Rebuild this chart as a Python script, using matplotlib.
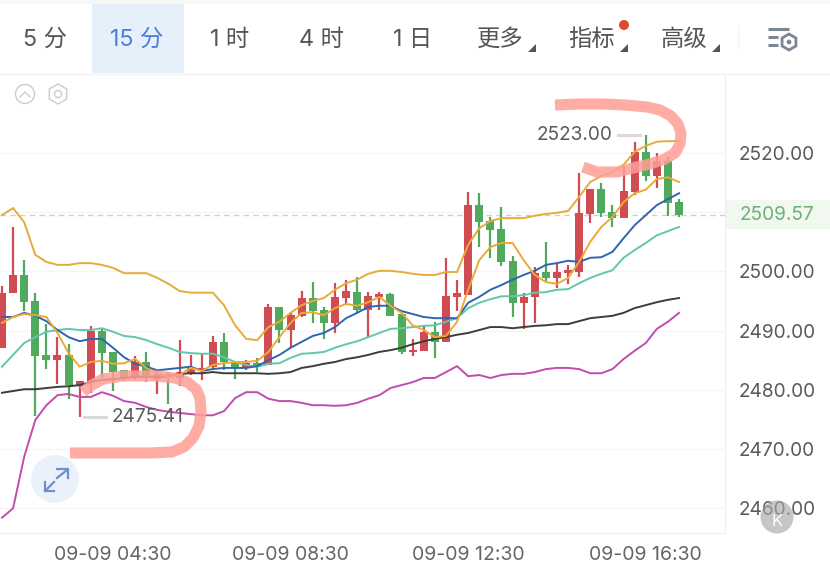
import numpy as np
import matplotlib
matplotlib.use("Agg")
import matplotlib.pyplot as plt
from matplotlib.patches import Circle, Polygon, Rectangle

plt.rcParams["font.family"] = ["Inter", "Noto Sans CJK SC", "DejaVu Sans"]

# 15 min candles, 09-09 02:00 onward
opens = [2487.1, 2496.4, 2499.4, 2495.0, 2485.9, 2485.0, 2485.9, 2480.6, 2481.2, 2489.9, 2486.4,
         2483.3, 2482.2, 2484.7, 2481.8, 2482.7, 2482.0, 2482.8, 2483.2, 2483.9, 2488.1, 2484.5,
         2483.7, 2484.5, 2484.2, 2494.0, 2490.1, 2492.5, 2495.5, 2493.5, 2491.3, 2495.5, 2496.5,
         2493.5, 2495.7, 2496.2, 2492.8, 2486.4, 2486.6, 2489.8, 2488.1, 2495.7, 2496.0, 2511.2,
         2508.5, 2507.2, 2501.8, 2494.7, 2495.7, 2499.9, 2498.9, 2499.7, 2499.9, 2509.7, 2513.9,
         2510.0, 2509.0, 2513.4, 2520.2, 2516.1, 2518.6, 2511.7]
highs = [2497.5, 2507.5, 2501.9, 2496.4, 2491.1, 2488.9, 2487.7, 2481.5, 2490.8, 2490.4, 2486.4,
         2483.3, 2485.7, 2486.4, 2483.3, 2483.0, 2488.4, 2485.9, 2486.2, 2489.1, 2489.6, 2484.7,
         2485.0, 2485.4, 2494.5, 2494.0, 2493.0, 2496.7, 2498.2, 2494.0, 2498.0, 2498.6, 2499.1,
         2496.5, 2496.5, 2496.4, 2492.8, 2488.6, 2490.9, 2491.5, 2502.3, 2498.6, 2513.4, 2513.2,
         2509.2, 2510.9, 2502.6, 2496.4, 2500.7, 2505.0, 2501.3, 2501.1, 2516.6, 2513.9, 2514.9,
         2511.2, 2517.8, 2521.9, 2523.0, 2520.0, 2519.3, 2512.2]
lows = [2487.1, 2496.4, 2493.3, 2475.6, 2483.5, 2481.0, 2478.5, 2475.41, 2479.5, 2482.0, 2479.8,
        2481.5, 2481.7, 2481.3, 2479.3, 2477.6, 2480.6, 2482.5, 2481.7, 2483.3, 2483.3, 2481.8,
        2483.3, 2483.0, 2484.2, 2487.9, 2487.1, 2492.3, 2491.3, 2488.6, 2489.6, 2494.5, 2493.0,
        2488.9, 2493.5, 2492.5, 2486.1, 2485.7, 2486.6, 2485.4, 2488.1, 2493.3, 2496.0, 2504.1,
        2502.3, 2500.9, 2492.3, 2490.3, 2491.3, 2498.4, 2497.2, 2497.9, 2499.1, 2508.2, 2509.2,
        2507.5, 2509.0, 2512.9, 2515.3, 2514.1, 2509.4, 2509.2]
closes = [2496.4, 2499.4, 2494.8, 2485.7, 2485.0, 2485.9, 2480.8, 2481.5, 2489.9, 2486.2, 2483.0,
          2482.0, 2484.7, 2482.2, 2482.7, 2482.0, 2483.0, 2483.7, 2483.7, 2488.1, 2484.7, 2483.7,
          2484.5, 2483.9, 2494.0, 2490.1, 2492.6, 2495.5, 2493.3, 2491.3, 2495.7, 2496.7, 2493.5,
          2495.8, 2496.2, 2492.5, 2486.4, 2486.7, 2489.8, 2488.1, 2495.8, 2496.4, 2511.2, 2508.3,
          2507.0, 2501.6, 2494.7, 2495.7, 2499.7, 2498.9, 2499.9, 2500.2, 2509.9, 2513.9, 2509.9,
          2509.0, 2513.6, 2520.2, 2516.1, 2518.6, 2511.6, 2509.57]

boll_upper = [2509.5, 2510.7, 2508.3, 2502.8, 2501.6, 2501.1, 2501.1, 2501.4, 2501.4, 2501.1, 2500.6,
              2499.7, 2499.7, 2499.7, 2498.9, 2497.9, 2496.7, 2496.4, 2496.4, 2496.4, 2494.3, 2490.9,
              2488.6, 2488.4, 2490.6, 2491.5, 2493.0, 2494.3, 2495.0, 2495.5, 2496.9, 2498.0, 2498.6,
              2499.6, 2500.1, 2500.1, 2499.9, 2499.6, 2499.4, 2499.4, 2499.9, 2499.9, 2504.5, 2507.3,
              2508.5, 2509.0, 2509.0, 2509.0, 2509.4, 2509.7, 2509.9, 2510.2, 2512.6, 2515.1, 2516.1,
              2516.8, 2518.0, 2520.2, 2521.2, 2521.9, 2522.0, 2522.0]
ma_fast = [2491.3, 2492.3, 2492.8, 2492.6, 2492.3, 2489.6, 2486.2, 2483.9, 2484.7, 2484.9, 2484.4,
           2484.5, 2485.2, 2483.7, 2482.8, 2482.2, 2482.5, 2483.7, 2483.2, 2484.2, 2484.5, 2484.7,
           2484.7, 2484.9, 2486.4, 2488.9, 2491.3, 2493.0, 2493.1, 2492.6, 2493.8, 2494.5, 2494.2,
           2494.8, 2495.7, 2494.2, 2493.0, 2490.9, 2490.1, 2488.9, 2489.1, 2491.5, 2496.9, 2501.9,
           2504.1, 2504.8, 2504.8, 2501.9, 2499.4, 2498.2, 2497.9, 2498.9, 2501.6, 2505.0, 2507.5,
           2509.2, 2511.7, 2513.2, 2513.8, 2515.6, 2515.9, 2515.1]
ma_blue = [2492.3, 2492.3, 2493.0, 2492.5, 2491.6, 2490.1, 2488.9, 2488.2, 2488.6, 2488.6, 2487.1,
           2485.5, 2484.4, 2483.9, 2483.3, 2483.5, 2483.7, 2483.9, 2483.2, 2483.5, 2483.7, 2483.7,
           2483.7, 2484.0, 2485.0, 2485.9, 2487.1, 2488.1, 2489.1, 2489.6, 2490.6, 2492.1, 2493.0,
           2494.0, 2494.2, 2494.2, 2493.3, 2492.8, 2492.3, 2492.1, 2492.1, 2492.1, 2494.7, 2495.7,
           2496.9, 2497.7, 2498.6, 2499.4, 2500.1, 2501.1, 2501.4, 2501.8, 2501.6, 2502.3, 2502.4,
           2503.3, 2505.6, 2507.8, 2509.5, 2511.2, 2512.2, 2513.2]
ma_teal = [2483.9, 2485.9, 2487.9, 2488.9, 2489.8, 2490.1, 2490.3, 2490.1, 2490.1, 2490.4, 2489.8,
           2489.1, 2488.9, 2488.4, 2487.7, 2487.1, 2486.4, 2486.2, 2486.1, 2486.1, 2485.5, 2484.7,
           2484.2, 2483.9, 2484.4, 2484.5, 2485.4, 2486.1, 2486.2, 2486.4, 2487.1, 2487.7, 2488.2,
           2488.9, 2489.6, 2490.3, 2490.4, 2490.6, 2490.8, 2490.9, 2491.5, 2492.1, 2493.8, 2494.7,
           2495.3, 2495.8, 2495.8, 2496.0, 2496.4, 2496.5, 2496.9, 2497.0, 2498.0, 2498.9, 2499.6,
           2500.2, 2502.3, 2503.6, 2504.8, 2506.1, 2506.8, 2507.5]
ma_black = [2479.5, 2479.8, 2480.1, 2480.1, 2480.3, 2480.5, 2480.6, 2480.8, 2481.3, 2481.7, 2481.8,
            2482.0, 2482.2, 2482.2, 2482.2, 2482.3, 2482.7, 2482.8, 2482.8, 2483.0, 2482.8, 2482.8,
            2482.8, 2482.8, 2482.7, 2482.8, 2483.0, 2483.7, 2484.0, 2484.4, 2484.7, 2485.2, 2485.5,
            2485.9, 2486.4, 2486.7, 2487.1, 2487.7, 2488.2, 2488.6, 2488.9, 2489.3, 2489.6, 2490.1,
            2490.6, 2490.6, 2490.4, 2490.6, 2490.8, 2490.9, 2491.1, 2491.1, 2491.6, 2492.1, 2492.3,
            2492.5, 2493.0, 2493.8, 2494.3, 2494.8, 2495.2, 2495.5]
boll_lower = [2458.4, 2460.0, 2468.7, 2474.9, 2477.4, 2479.1, 2479.3, 2478.8, 2478.8, 2479.6, 2479.0,
              2478.1, 2477.8, 2477.1, 2476.6, 2476.3, 2476.1, 2475.9, 2475.7, 2475.7, 2476.4, 2478.6,
              2479.6, 2479.6, 2478.5, 2478.1, 2478.1, 2477.8, 2477.4, 2477.4, 2477.3, 2477.4, 2477.8,
              2478.5, 2479.1, 2480.3, 2480.8, 2481.3, 2482.0, 2482.0, 2483.0, 2484.0, 2482.3, 2482.5,
              2482.0, 2482.5, 2482.7, 2482.7, 2483.0, 2483.5, 2483.7, 2483.7, 2483.5, 2482.8, 2482.8,
              2483.5, 2485.2, 2486.6, 2487.9, 2490.3, 2491.5, 2493.0]

price_ticks = [2460, 2470, 2480, 2490, 2500, 2510, 2520]
shown_ticks = [2460, 2470, 2480, 2490, 2500, 2520]
time_idx = [10, 26, 42, 58]
time_labels = ["09-09 04:30", "09-09 08:30", "09-09 12:30", "09-09 16:30"]
last_price = 2509.57
max_price = 2523.00
min_price = 2475.41

tabs = ["5 分", "15 分", "1 时", "4 时", "1 日", "更多", "指标", "高级"]
tab_x = [45, 137, 230, 321, 413, 500, 592, 684]

# hand drawn strokes on the screenshot, in pixels
stroke_top_x = [555, 580, 603, 625, 647, 660, 671, 678, 681, 680, 675, 665, 650, 633, 617, 597, 583]
stroke_top_y = [105, 104, 104, 105, 107, 110, 116, 124, 133, 144, 153, 159, 164, 168, 172, 172, 167]
stroke_low_x = [83, 92, 103, 123, 157, 175, 187, 196, 200, 201, 199, 193, 184, 172, 150, 133, 70]
stroke_low_y = [392, 385, 379, 376, 376, 378, 382, 389, 398, 412, 426, 438, 447, 452, 453, 453, 453]

RED = "#d04b52"
GREEN = "#50a95c"
GREY = "#5a5a5a"

fig = plt.figure(figsize=(8.3, 5.68), dpi=100, facecolor="white")

ax = fig.add_axes([0, 35 / 568, 725 / 830, 458 / 568])
x = np.arange(len(opens))
colors = [RED if c >= o else GREEN for o, c in zip(opens, closes)]
ax.vlines(x, lows, highs, colors=colors, linewidth=1.6, zorder=3)
ax.bar(x, np.abs(np.array(closes) - np.array(opens)), bottom=np.minimum(opens, closes),
       width=0.72, color=colors, zorder=3)
ax.plot(x, ma_black, color="#3d3d3d", lw=1.4, zorder=4)
ax.plot(x, ma_teal, color="#62c7aa", lw=1.4, zorder=4)
ax.plot(x, ma_blue, color="#2f65b0", lw=1.4, zorder=4)
ax.plot(x, boll_upper, color="#e7ab3c", lw=1.4, zorder=4)
ax.plot(x, ma_fast, color="#eda936", lw=1.4, zorder=4)
ax.plot(x, boll_lower, color="#c04dab", lw=1.4, zorder=4)

ax.axhline(last_price, color="#cfcfcf", lw=1, ls=(0, (4, 3)), zorder=1)
ax.set_xlim(-0.18, 65.14)
ax.set_ylim(2455.82, 2533.17)
ax.set_yticks(price_ticks)
ax.set_yticklabels([f"{p:.2f}" if p in shown_ticks else "" for p in price_ticks])
ax.yaxis.tick_right()
ax.set_xticks(time_idx)
ax.set_xticklabels(time_labels)
ax.tick_params(axis="y", length=0, pad=10, labelsize=13.7, labelcolor=GREY)
ax.tick_params(axis="x", length=0, pad=9, labelsize=14, labelcolor="#666666")
ax.grid(axis="y", color="#f5f5f5", lw=1, zorder=0)
for side in ["top", "left"]:
    ax.spines[side].set_visible(False)
ax.spines["right"].set_color("#eeeeee")
ax.spines["bottom"].set_color("#eeeeee")

# min / max callouts
ax.plot([7.4, 9.4], [min_price, min_price], color="#d9d9d9", lw=2.2, zorder=5)
ax.text(9.9, min_price, f"{min_price:.2f}", color=GREY, fontsize=13.7, va="center", ha="left", zorder=6)
ax.plot([55.5, 57.5], [max_price, max_price], color="#d9d9d9", lw=2.2, zorder=5)
ax.text(55.0, max_price, f"{max_price:.2f}", color=GREY, fontsize=13.7, va="center", ha="right", zorder=6)

# overlay in pixels for the app toolbar and icons
ov = fig.add_axes([0, 0, 1, 1], zorder=10)
ov.set_xlim(0, 830)
ov.set_ylim(568, 0)
ov.axis("off")
ov.patch.set_alpha(0)

ov.add_patch(Rectangle((0, 0), 830, 4, color="#f7f7f7", lw=0))
ov.add_patch(Rectangle((92, 4), 92, 69, color="#e6f0fb", lw=0))
ov.plot([0, 830], [74, 74], color="#f2f2f2", lw=1)
ov.plot([738, 738], [25, 48], color="#f4f4f4", lw=1)
for label, tx in zip(tabs, tab_x):
    c = "#4a80d6" if label == "15 分" else "#555555"
    ov.text(tx, 40, label, color=c, fontsize=16.8, ha="center", va="center")
for tx in [528, 620, 712]:
    ov.add_patch(Polygon([[tx, 52], [tx + 8, 52], [tx + 8, 44]], color="#555555", lw=0))
ov.add_patch(Circle((624, 25), 5, color="#e0492f", lw=0))

# settings icon
for x0, x1, yy in [(768, 789, 29), (768, 778, 37), (768, 778, 45)]:
    ov.plot([x0, x1], [yy, yy], color="#7b8794", lw=2.2, solid_capstyle="butt")
hex_a = np.deg2rad(np.arange(30, 390, 60))
ov.add_patch(Polygon(np.c_[789 + 8 * np.cos(hex_a), 42 + 8 * np.sin(hex_a)], fill=False, ec="#7b8794", lw=2))
ov.add_patch(Circle((789, 42), 2.4, color="#7b8794", lw=0))

# collapse and settings icons over the chart
ov.add_patch(Circle((25, 94), 9.5, fill=False, ec="#cccccc", lw=1))
ov.plot([20, 25, 30], [97, 92, 97], color="#cccccc", lw=1)
ov.add_patch(Polygon(np.c_[58 + 10 * np.cos(hex_a), 94 + 10 * np.sin(hex_a)], fill=False, ec="#cccccc", lw=1))
ov.add_patch(Circle((58, 94), 3.5, fill=False, ec="#cccccc", lw=1))

# last price tag
ov.add_patch(Rectangle((726, 200), 104, 29, color="#f1f8ef", lw=0))
ov.text(740, 214.5, f"{last_price:.2f}", color="#6db274", fontsize=13.7, va="center", ha="left")

# hand drawn red marks
ov.plot(stroke_top_x, stroke_top_y, color="#ff9e96", lw=8, alpha=0.85, solid_capstyle="butt", solid_joinstyle="round")
ov.plot(stroke_low_x, stroke_low_y, color="#ff9e96", lw=8, alpha=0.85, solid_capstyle="butt", solid_joinstyle="round")

# expand button
ov.add_patch(Circle((55, 479), 24, color="#eaf1fa", lw=0))
ov.plot([57, 67], [478, 470], color="#6f8fc8", lw=1.6)
ov.plot([57, 68, 68], [469, 469, 478], color="#6f8fc8", lw=1.6)
ov.plot([45, 54], [491, 482], color="#6f8fc8", lw=1.6)
ov.plot([45, 45, 54], [482, 491, 491], color="#6f8fc8", lw=1.6)

# K badge
ov.add_patch(Circle((777, 517), 16.5, color="#a8a8a8", alpha=0.65, lw=0))
ov.text(777, 521, "K", color="white", fontsize=12, ha="center", va="center")

fig.savefig("out.png", dpi=100)
